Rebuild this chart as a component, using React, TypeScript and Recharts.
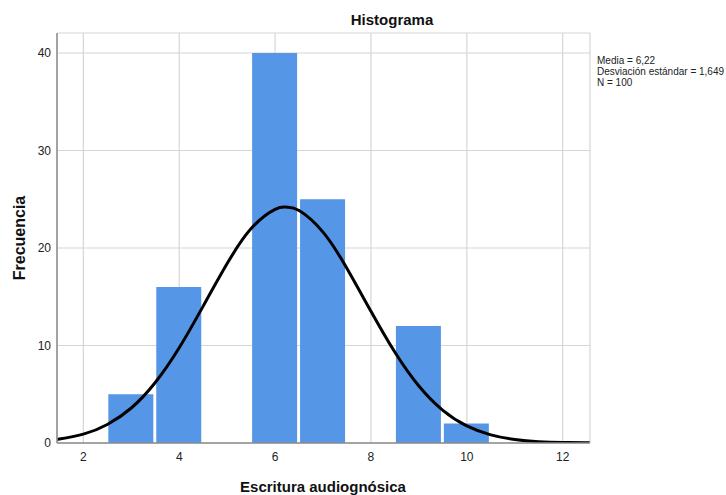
import { ComposedChart, Bar, Line, XAxis, YAxis, CartesianGrid } from 'recharts'

// histogram bins (class midpoints) and counts
const BIN_CENTERS = [3, 4, 5, 6, 7, 8, 9, 10]
const FREQUENCIES = [5, 16, 0, 40, 25, 0, 12, 2]

// fitted normal curve, sampled along the x axis
const CURVE_X = [1.45, 1.5, 2, 2.5, 3, 3.5, 4, 4.5, 5, 5.5, 6, 6.25, 6.5, 7, 7.5, 8, 8.5, 9, 9.5, 10, 10.5, 11, 11.5, 12, 12.5, 12.57]
const CURVE_Y = [0.37, 0.4, 0.91, 1.9, 3.59, 6.21, 9.77, 14.04, 18.4, 21.99, 23.97, 24.19, 23.84, 21.63, 17.9, 13.51, 9.3, 5.84, 3.35, 1.75, 0.83, 0.36, 0.14, 0.05, 0.02, 0.02]

const X_TICKS = [2, 4, 6, 8, 10, 12]
const Y_TICKS = [0, 10, 20, 30, 40]
const X_DOMAIN = [1.45, 12.57]

const SUMMARY = ['Media = 6,22', 'Desviación estándar = 1,649', 'N = 100']

const W = 726
const H = 495
const FONT = '"Liberation Sans", Arial, sans-serif'

const bins = BIN_CENTERS.map((x, i) => ({ x, count: FREQUENCIES[i] }))
const curve = CURVE_X.map((x, i) => ({ x, y: CURVE_Y[i] }))

export default function App() {
  return (
    <div style={{ position: 'absolute', left: 0, top: 0, width: W, height: H, background: '#fff', fontFamily: FONT }}>
      <ComposedChart width={W} height={H} data={bins} margin={{ top: 33, right: 136, bottom: 0, left: 0 }}>
        <CartesianGrid xAxisId="main" stroke="#d6d6d6" strokeWidth={1.2} />
        <XAxis
          xAxisId="main"
          dataKey="x"
          type="number"
          domain={X_DOMAIN}
          ticks={X_TICKS}
          allowDataOverflow
          height={52}
          tickLine={false}
          tickSize={0}
          tickMargin={9}
          axisLine={{ stroke: '#8c8c8c', strokeWidth: 1.5 }}
          tick={{ fontSize: 12, fill: '#222', fontFamily: FONT }}
        />
        {/* hidden axis for the curve, so the bar band width comes from the bins only */}
        <XAxis
          xAxisId="curve"
          dataKey="x"
          type="number"
          domain={X_DOMAIN}
          allowDataOverflow
          orientation="top"
          height={0}
          hide
        />
        <YAxis
          type="number"
          domain={[0, 42.05]}
          ticks={Y_TICKS}
          allowDataOverflow
          width={57}
          tickLine={false}
          tickSize={0}
          tickMargin={6}
          axisLine={{ stroke: '#8c8c8c', strokeWidth: 1.5 }}
          tick={{ fontSize: 12, fill: '#222', fontFamily: FONT }}
        />
        <Bar xAxisId="main" dataKey="count" fill="#5596e6" barSize={45} isAnimationActive={false} />
        <Line
          xAxisId="curve"
          data={curve}
          dataKey="y"
          type="natural"
          stroke="#000"
          strokeWidth={3}
          dot={false}
          activeDot={false}
          isAnimationActive={false}
        />
      </ComposedChart>
      <svg width={W} height={H} style={{ position: 'absolute', left: 0, top: 0, pointerEvents: 'none' }}>
        <text x={392} y={25} textAnchor="middle" fontSize={15} fontWeight="bold" fill="#111" fontFamily={FONT}>
          Histograma
        </text>
        <text x={323} y={492} textAnchor="middle" fontSize={15} fontWeight="bold" fill="#111" fontFamily={FONT}>
          Escritura audiognósica
        </text>
        <text
          x={25}
          y={238}
          textAnchor="middle"
          fontSize={16}
          fontWeight="bold"
          fill="#111"
          fontFamily={FONT}
          transform="rotate(-90 25 238)"
        >
          Frecuencia
        </text>
        {SUMMARY.map((line, i) => (
          <text key={line} x={597} y={64 + i * 11} fontSize={10} fill="#222" fontFamily={FONT}>
            {line}
          </text>
        ))}
      </svg>
    </div>
  )
}
